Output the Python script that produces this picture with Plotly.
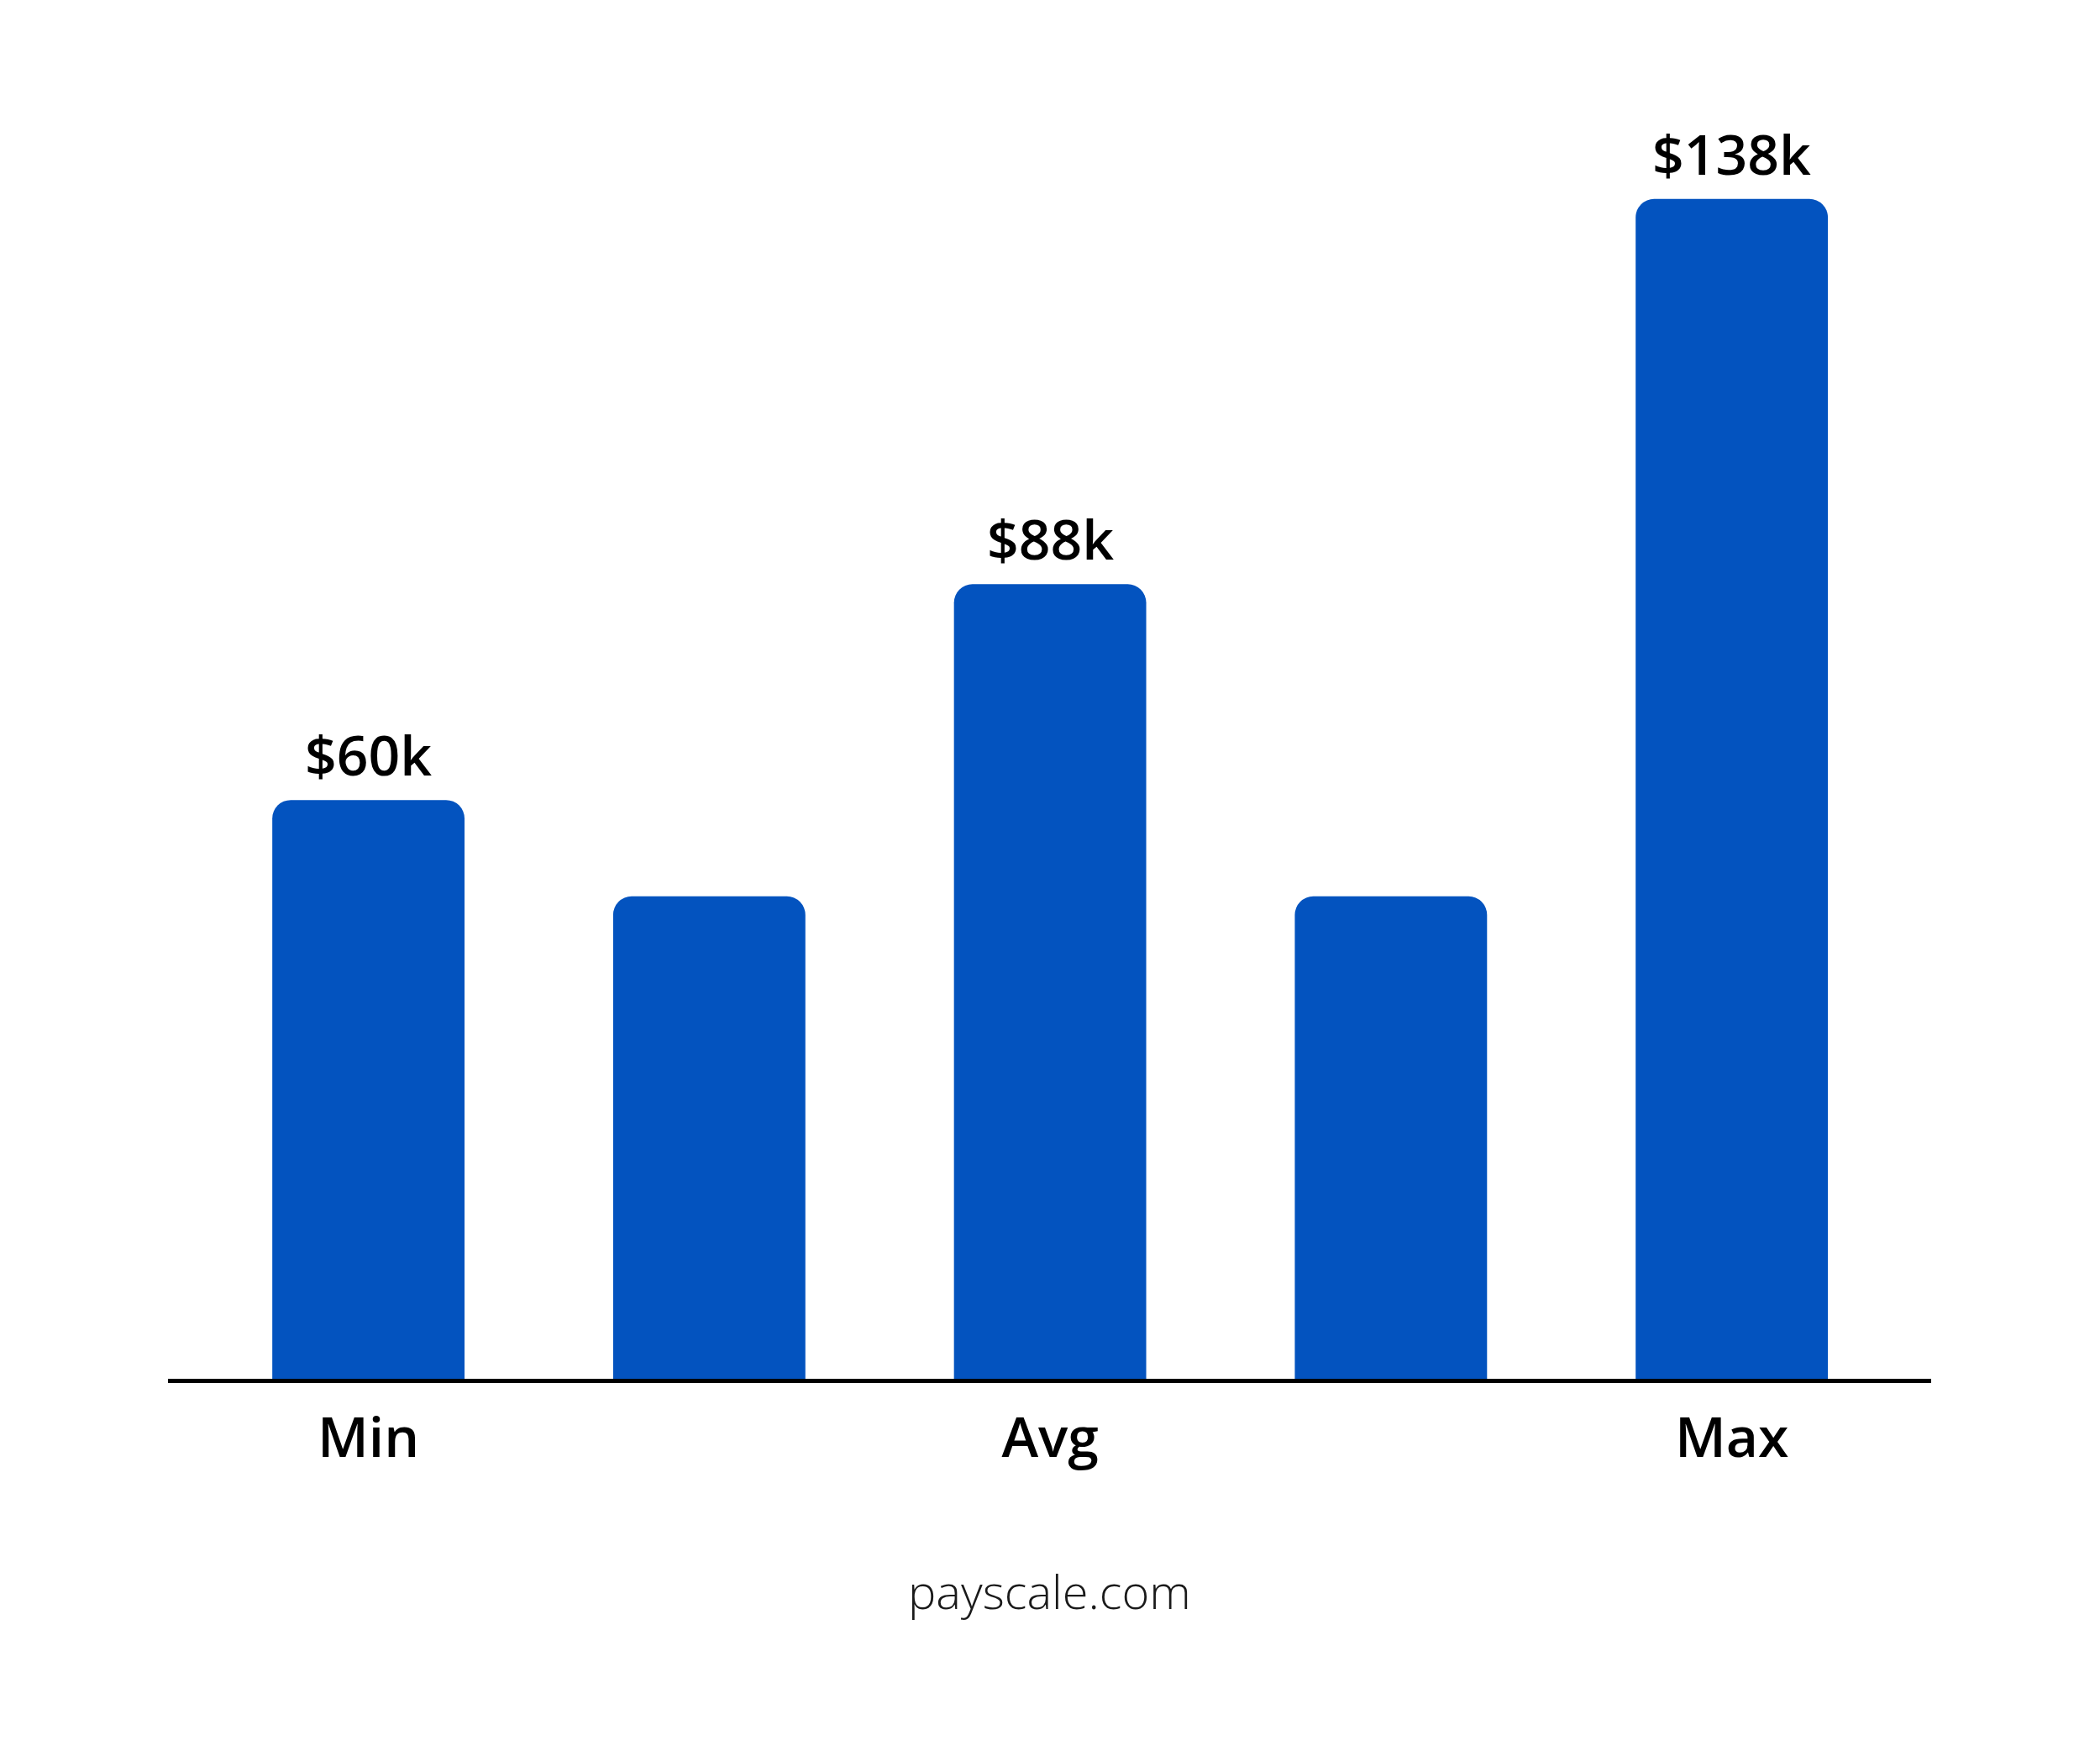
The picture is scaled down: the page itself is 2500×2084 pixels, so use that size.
import plotly.graph_objects as go

# Data
positions = [0, 1, 2, 3, 4]
values_k = [60, 47.5, 88, 47.5, 138]          # salary in $k (bars 2 and 4 unlabeled)
bar_labels = ["$60k", "", "$88k", "", "$138k"]
tick_positions = [0, 2, 4]
tick_labels = ["Min", "Avg", "Max"]
axis_floor = -15.1                              # value where the drawn baseline sits
source = "payscale.com"

BLUE = "#0353BF"
FONT = "Open Sans"

# heights above the drawn baseline
heights = [v - axis_floor for v in values_k]

fig = go.Figure()
fig.add_trace(go.Bar(
    x=positions,
    y=heights,
    marker=dict(color=BLUE, line=dict(width=0)),
    hoverinfo="skip",
))

annotations = []
for p, h, lab in zip(positions, heights, bar_labels):
    if lab:
        annotations.append(dict(
            text=lab, x=p, y=h, xref="x", yref="y",
            xanchor="center", yanchor="bottom", yshift=8, showarrow=False,
            font=dict(family=FONT, size=66, color="#000000", weight=600),
        ))
annotations.append(dict(
    text=source, xref="paper", yref="paper", x=0.5, y=-0.1635,
    xanchor="center", yanchor="middle", showarrow=False,
    font=dict(family=FONT, size=56, color="#1a1a1a", weight=300),
))

fig.update_layout(
    width=2500, height=2084,
    margin=dict(l=192, r=209, t=92, b=451),
    paper_bgcolor="white", plot_bgcolor="white",
    bargap=0.436,
    barcornerradius=22,
    showlegend=False,
    xaxis=dict(
        range=[-0.588, 4.585],
        tickvals=tick_positions, ticktext=tick_labels,
        tickfont=dict(family=FONT, size=66, color="#000000", weight=600),
        showgrid=False, zeroline=False,
        showline=True, linecolor="#000000", linewidth=5,
        ticks="", ticklabelstandoff=9,
    ),
    yaxis=dict(
        range=[0, 1541 / 9.172],
        visible=False, showgrid=False, zeroline=False,
    ),
    annotations=annotations,
)

fig.write_html("out.html")
